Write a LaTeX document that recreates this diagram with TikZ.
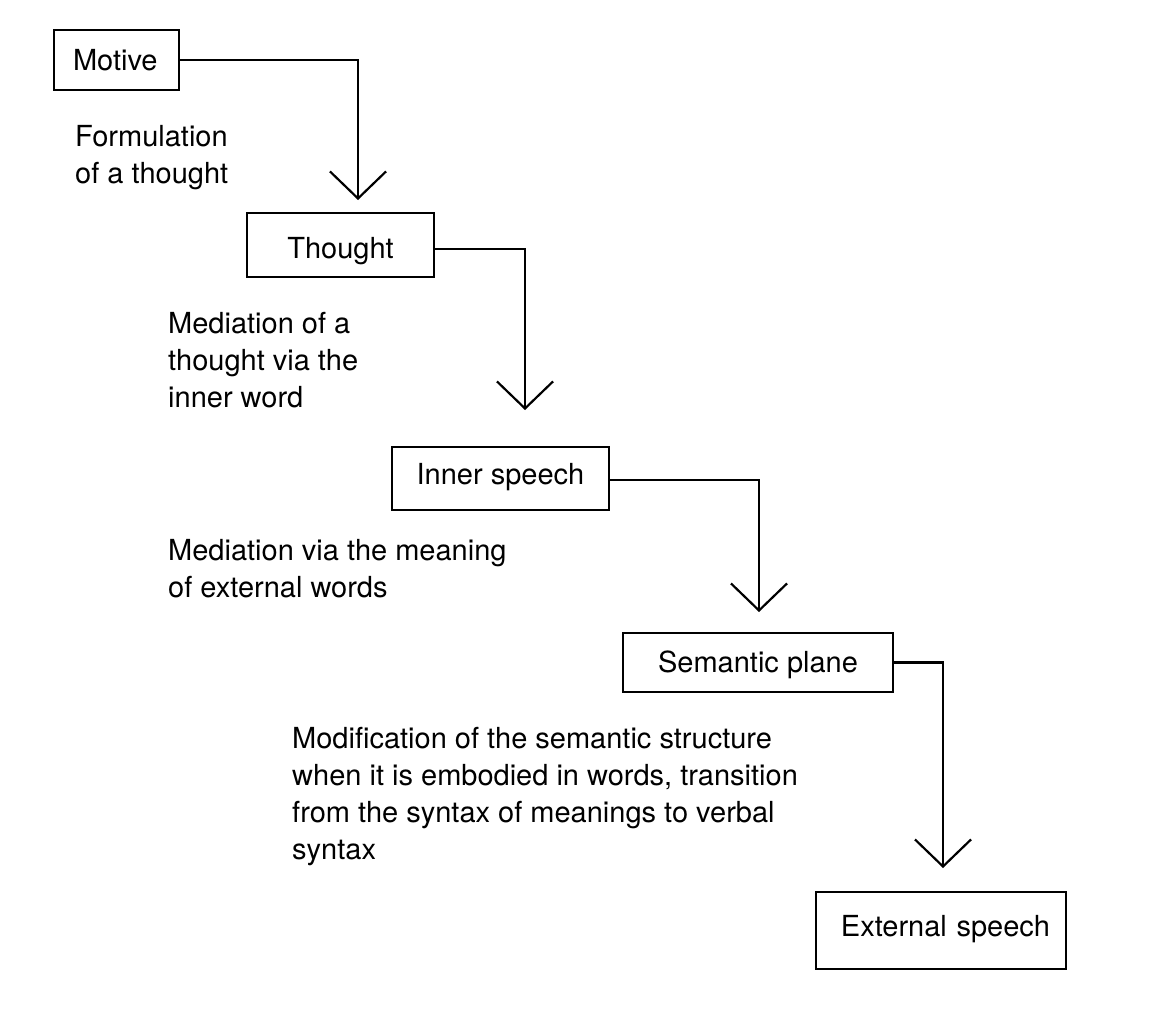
\documentclass[tikz,border=0pt]{standalone}
\usepackage{fontspec}
\setmainfont{TeX Gyre Heros}
\usetikzlibrary{arrows.meta}
\begin{document}
\begin{tikzpicture}[x=1pt,y=-1pt,
  every node/.style={font=\fontsize{29}{37}\selectfont},
  box/.style={draw, line width=2.4pt, inner sep=0pt, text height=22pt, text depth=4pt},
  note/.style={anchor=north west, align=left, inner sep=0pt},
  flow/.style={line width=2.2pt, -{Straight Barb[length=27pt,width=56pt,line width=2.2pt]}}
  ]
\useasboundingbox (0,0) rectangle (1172,1012);
% boxes
\node[box, minimum width=125pt, minimum height=60pt, text width=87pt, align=left, text height=22pt, text depth=2pt] (motive) at (116.5,60) {Motive};
\node[box, minimum width=187pt, minimum height=64pt, text height=26pt, text depth=0pt] (thought) at (340.5,245) {Thought};
\node[box, minimum width=217pt, minimum height=63pt, text height=17pt, text depth=6pt] (inner) at (500.5,478.5) {Inner speech};
\node[box, minimum width=270pt, minimum height=59pt, text height=21pt, text depth=2pt] (semantic) at (758,662.5) {Semantic plane};
\node[box, minimum width=250pt, minimum height=77pt, text width=218pt, align=right, text height=17pt, text depth=6pt] (external) at (941,930.5) {External speech};
% arrow tips
\coordinate (t1) at (358,200);
\coordinate (t2) at (525,410);
\coordinate (t3) at (759,612);
\coordinate (t4) at (943,868);
% connectors
\draw[flow] (motive.east) -| (t1);
\draw[flow] ([yshift=-4pt]thought.east) -| (t2);
\draw[flow] ([yshift=-1.5pt]inner.east) -| (t3);
\draw[flow] (semantic.east) -| (t4);
% notes
\node[note] (n1) at (75,125.2) {Formulation\\of a thought};
\node[note] (n2) at (168,312.2) {Mediation of a\\thought via the\\inner word};
\node[note] (n3) at (168,539.2) {Mediation via the meaning\\of external words};
\node[note] (n4) at (292,727.2) {Modification of the semantic structure\\when it is embodied in words, transition\\from the syntax of meanings to verbal\\syntax};
\end{tikzpicture}
\end{document}
